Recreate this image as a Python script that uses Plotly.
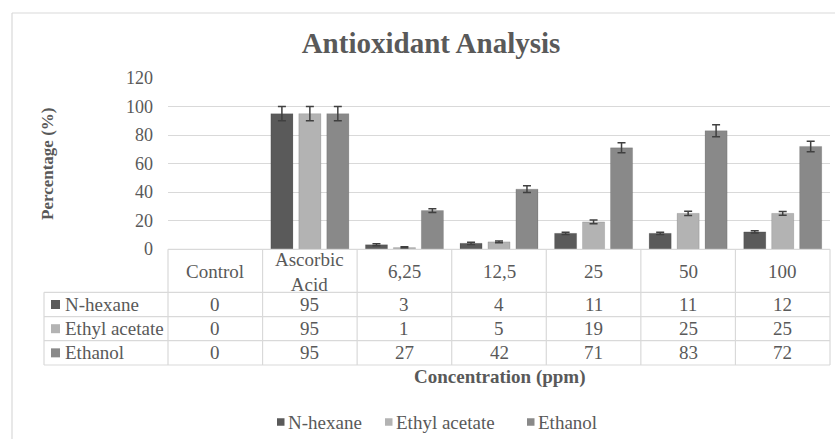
import plotly.graph_objects as go

# ---------------- data ----------------
categories = ["Control", "Ascorbic Acid", "6,25", "12,5", "25", "50", "100"]
series_names = ["N-hexane", "Ethyl acetate", "Ethanol"]
n_hexane = [0, 95, 3, 4, 11, 11, 12]
ethyl_acetate = [0, 95, 1, 5, 19, 25, 25]
ethanol = [0, 95, 27, 42, 71, 83, 72]
n_hexane_err = [0, 5, 0.7, 0.8, 0.8, 0.8, 0.8]
ethyl_acetate_err = [0, 5, 0.5, 0.6, 1.3, 1.5, 1.3]
ethanol_err = [0, 5, 1.3, 2.3, 3.5, 4.2, 3.7]
y_ticks = [0, 20, 40, 60, 80, 100, 120]

title_text = "Antioxidant Analysis"
x_title = "Concentration (ppm)"
y_title = "Percentage (%)"

# ---------------- style ----------------
colors = ["#5a5a5a", "#b3b3b3", "#898989"]
FONT = "Liberation Serif"
TXT = "#595959"
GRID = "#d9d9d9"
TS = 19  # table / legend font size

W, H = 835, 439
L, R, T, B = 168, 5, 78, 190
PW = W - L - R
PH = H - T - B


def px(x):
    return (x - L) / PW


def py(y):
    return (H - B - y) / PH


values = [n_hexane, ethyl_acetate, ethanol]
errors = [n_hexane_err, ethyl_acetate_err, ethanol_err]

fig = go.Figure()
for name, vals, errs, col in zip(series_names, values, errors, colors):
    # zero-height bars are not drawn (no bar, no error cap)
    shown = [v if v != 0 else None for v in vals]
    fig.add_trace(go.Bar(
        x=categories, y=shown, name=name,
        marker=dict(color=col, line=dict(color="rgba(0,0,0,0.12)", width=1)),
        error_y=dict(type="data", array=errs, visible=True,
                     color="#404040", thickness=1.5, width=4),
    ))

shapes = []
annotations = []

# chart border
shapes.append(dict(type="line", xref="paper", yref="paper",
                   x0=px(12), x1=px(W + 5), y0=py(13), y1=py(13),
                   line=dict(color=GRID, width=1.2)))
shapes.append(dict(type="line", xref="paper", yref="paper",
                   x0=px(12), x1=px(12), y0=py(13), y1=py(H + 5),
                   line=dict(color=GRID, width=1.2)))

# data table
ncat = len(categories)
col_w = PW / ncat
label_left = 44
header_top, header_bot = 249.3, 292.3
row_lines = [292.3, 316.7, 340.7, 365.0]
table_right = L + PW

shapes.append(dict(type="line", xref="paper", yref="paper",
                   x0=px(L), x1=px(table_right), y0=py(header_top), y1=py(header_top),
                   line=dict(color=GRID, width=1.2)))
for yl in row_lines:
    shapes.append(dict(type="line", xref="paper", yref="paper",
                       x0=px(label_left), x1=px(table_right), y0=py(yl), y1=py(yl),
                       line=dict(color=GRID, width=1.2)))
shapes.append(dict(type="line", xref="paper", yref="paper",
                   x0=px(label_left), x1=px(label_left), y0=py(row_lines[0]), y1=py(row_lines[-1]),
                   line=dict(color=GRID, width=1.2)))
for k in range(ncat + 1):
    xv = L + k * col_w
    shapes.append(dict(type="line", xref="paper", yref="paper",
                       x0=px(xv), x1=px(xv), y0=py(header_top), y1=py(row_lines[-1]),
                       line=dict(color=GRID, width=1.2)))

# header texts
for k, cat in enumerate(categories):
    xc = L + (k + 0.5) * col_w
    annotations.append(dict(xref="paper", yref="paper", x=px(xc), y=py((header_top + header_bot) / 2 + 1),
                            text=cat.replace(" ", "<br>"), showarrow=False,
                            xanchor="center", yanchor="middle",
                            font=dict(family=FONT, size=TS, color=TXT)))

# rows
for r, (name, vals, col) in enumerate(zip(series_names, values, colors)):
    y0, y1 = row_lines[r], row_lines[r + 1]
    yc = (y0 + y1) / 2
    shapes.append(dict(type="rect", xref="paper", yref="paper",
                       x0=px(51), x1=px(60), y0=py(yc - 4.5), y1=py(yc + 4.5),
                       fillcolor=col, line=dict(width=0)))
    annotations.append(dict(xref="paper", yref="paper", x=px(63), y=py(yc),
                            text=name, showarrow=False, xanchor="left", yanchor="middle",
                            font=dict(family=FONT, size=TS, color=TXT)))
    for k, v in enumerate(vals):
        xc = L + (k + 0.5) * col_w
        annotations.append(dict(xref="paper", yref="paper", x=px(xc), y=py(yc),
                                text=str(v), showarrow=False, xanchor="center", yanchor="middle",
                                font=dict(family=FONT, size=TS, color=TXT)))

# axis titles
annotations.append(dict(xref="paper", yref="paper", x=px(500), y=py(377),
                        text="<b>" + x_title + "</b>", showarrow=False,
                        xanchor="center", yanchor="middle",
                        font=dict(family=FONT, size=19, color=TXT)))
annotations.append(dict(xref="paper", yref="paper", x=px(47), y=py(164),
                        text="<b>" + y_title + "</b>", showarrow=False, textangle=-90,
                        xanchor="center", yanchor="middle",
                        font=dict(family=FONT, size=17, color=TXT)))

# manual legend
legend_x = [277, 385, 527]
ly = 422
for name, col, lx in zip(series_names, colors, legend_x):
    shapes.append(dict(type="rect", xref="paper", yref="paper",
                       x0=px(lx), x1=px(lx + 7.5), y0=py(ly - 3.75), y1=py(ly + 3.75),
                       fillcolor=col, line=dict(width=0)))
    annotations.append(dict(xref="paper", yref="paper", x=px(lx + 9), y=py(ly),
                            text=name, showarrow=False, xanchor="left", yanchor="middle",
                            font=dict(family=FONT, size=TS, color=TXT)))

fig.update_layout(
    width=W, height=H,
    margin=dict(l=L, r=R, t=T, b=B, autoexpand=False),
    paper_bgcolor="white", plot_bgcolor="white",
    barmode="group", bargap=0.113, bargroupgap=0.21,
    showlegend=False,
    title=dict(text="<b>" + title_text + "</b>", x=px(431), xref="paper", xanchor="center",
               y=1 - 43 / H, yref="container", yanchor="middle",
               font=dict(family=FONT, size=29, color=TXT)),
    xaxis=dict(showticklabels=False, showgrid=False, zeroline=False, showline=False,
               ticks="", categoryorder="array", categoryarray=categories),
    yaxis=dict(range=[0, 120], tickvals=y_ticks, showgrid=True, gridcolor=GRID, gridwidth=1.2,
               zeroline=False, showline=False, ticks="", ticklabelstandoff=14,
               tickfont=dict(family=FONT, size=18, color=TXT)),
    shapes=shapes, annotations=annotations,
)

fig.write_html(
    "out.html",
    config={"displayModeBar": False},
    post_script="document.body.style.margin='0';document.body.style.overflow='hidden';",
)
